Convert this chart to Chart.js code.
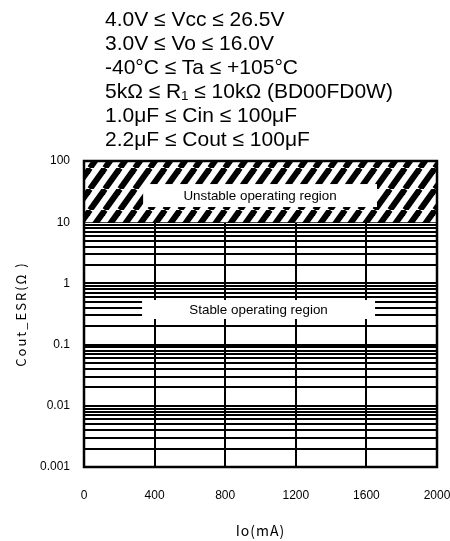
<!DOCTYPE html>
<html>
<head>
<meta charset="utf-8">
<script src="https://cdn.jsdelivr.net/npm/chart.js@4/dist/chart.umd.min.js"></script>
<style>
  html, body { margin: 0; padding: 0; background: #fff; }
  #wrap { position: relative; width: 450px; height: 541px; }
  #cond { position: absolute; left: 105px; top: 7px; font: 21px/24px "Liberation Sans", Arial, sans-serif; color: #000; white-space: pre; }
  canvas { position: absolute; left: 0; top: 0; }
</style>
</head>
<body>
<div id="wrap">
  <canvas id="c" width="450" height="541"></canvas>
  <div id="cond"></div>
</div>
<script>
// ---- data ----
const conditionLines = [
  "4.0V ≤ Vcc ≤ 26.5V",
  "3.0V ≤ Vo ≤ 16.0V",
  "-40°C ≤ Ta ≤ +105°C",
  "5kΩ ≤ R₁ ≤ 10kΩ (BD00FD0W)",
  "1.0μF ≤ Cin ≤ 100μF",
  "2.2μF ≤ Cout ≤ 100μF"
];
const ioRange = [0, 2000];                 // Io (mA) extent of the regions
const unstableTopESR = [100, 100];         // upper edge of unstable region (Ω)
const stableLimitESR = [10, 10];           // boundary stable / unstable (Ω)
const xTickValues = [0, 400, 800, 1200, 1600, 2000];
const yDecades = [0.001, 0.01, 0.1, 1, 10, 100];
const regionLabels = [
  { text: "Unstable operating region", x: [335, 1660], y: [17.7, 42] },
  { text: "Stable operating region",   x: [329, 1649], y: [0.262, 0.536] }
];

document.getElementById('cond').textContent = conditionLines.join("\n");

// minor + major tick values of log axis
const yTickValues = [];
for (let i = 0; i < yDecades.length - 1; i++) {
  for (let m = 1; m <= 9; m++) yTickValues.push(Number((m * yDecades[i]).toPrecision(6)));
}
yTickValues.push(yDecades[yDecades.length - 1]);

// hatch pattern tile
function makeHatch() {
  const P = 15, H = 21;              // horizontal period, tile height (slope 1.4)
  const t = document.createElement('canvas');
  t.width = P; t.height = H;
  const g = t.getContext('2d');
  g.fillStyle = '#fff'; g.fillRect(0, 0, P, H);
  g.strokeStyle = '#000'; g.lineWidth = 6; g.lineCap = 'butt';
  for (let k = -3; k <= 3; k++) {
    g.beginPath();
    g.moveTo(k * P, H);
    g.lineTo(k * P + P, 0);
    g.stroke();
  }
  return g.createPattern(t, 'repeat');
}
const hatch = makeHatch();

const font = '"Liberation Sans", Arial, sans-serif';
const titleSpacing = { x: '1px', y: '2px' };

const spacing = {
  id: 'spacing',
  beforeDraw(chart) {
    ['x', 'y'].forEach(id => {
      const s = chart.scales[id];
      if (s && !s.__wrapped) {
        const orig = s.drawTitle;
        s.drawTitle = function () {
          const c = this.ctx;
          const prev = c.letterSpacing;
          c.letterSpacing = titleSpacing[id];
          orig.apply(this, arguments);
          c.letterSpacing = prev || '0px';
        };
        s.__wrapped = true;
      }
    });
  }
};

const overlay = {
  id: 'overlay',
  afterDatasetsDraw(chart) {
    const { ctx, chartArea: a, scales: { x, y } } = chart;
    ctx.save();
    regionLabels.forEach(l => {
      const x0 = x.getPixelForValue(l.x[0]), x1 = x.getPixelForValue(l.x[1]);
      const y0 = y.getPixelForValue(l.y[1]), y1 = y.getPixelForValue(l.y[0]);
      ctx.fillStyle = '#fff';
      ctx.fillRect(x0, y0, x1 - x0, y1 - y0);
      ctx.fillStyle = '#000';
      ctx.font = '13.4px ' + font;
      ctx.textAlign = 'center';
      ctx.textBaseline = 'middle';
      ctx.fillText(l.text, (x0 + x1) / 2, (y0 + y1) / 2 + 1);
    });
    ctx.strokeStyle = '#000';
    ctx.lineWidth = 2.5;
    ctx.strokeRect(a.left, a.top, a.right - a.left, a.bottom - a.top);
    ctx.restore();
  }
};

new Chart(document.getElementById('c'), {
  type: 'line',
  data: {
    datasets: [{
      label: 'Unstable operating region',
      data: ioRange.map((v, i) => ({ x: v, y: unstableTopESR[i] })),
      fill: { value: stableLimitESR[0] },
      backgroundColor: hatch,
      borderColor: '#000',
      borderWidth: 0,
      pointRadius: 0
    }]
  },
  options: {
    responsive: false,
    animation: false,
    layout: { padding: { top: 161, right: 13, bottom: 0, left: 0 } },
    plugins: { legend: { display: false }, tooltip: { enabled: false } },
    scales: {
      x: {
        type: 'linear',
        min: ioRange[0], max: ioRange[1],
        afterBuildTicks: s => { s.ticks = xTickValues.map(v => ({ value: v })); },
        afterFit: s => { s.height = 74; s.paddingLeft = 0; s.paddingRight = 0; },
        grid: { color: '#000', lineWidth: 2, drawTicks: false },
        border: { display: true, color: '#000', width: 2 },
        ticks: { color: '#000', font: { family: font, size: 12 }, padding: 21, maxRotation: 0,
                 callback: v => String(v) },
        title: { display: true, text: 'Io(mA)', color: '#000',
                 font: { family: '"Noto Sans CJK JP", sans-serif', size: 14 },
                 padding: { top: 0, bottom: 2 } }
      },
      y: {
        type: 'logarithmic',
        min: yDecades[0], max: yDecades[yDecades.length - 1],
        afterBuildTicks: s => { s.ticks = yTickValues.map(v => ({ value: v })); },
        afterFit: s => { s.width = 84; s.paddingTop = 0; s.paddingBottom = 0; },
        grid: { color: '#000', lineWidth: 2, drawTicks: false },
        border: { display: true, color: '#000', width: 2 },
        ticks: { color: '#000', font: { family: font, size: 12 }, padding: 14, autoSkip: false,
                 callback: v => (yDecades.includes(v) ? String(v) : '') },
        title: { display: true, text: 'Cout_ESR(Ω )', color: '#000',
                 font: { family: '"Noto Sans CJK JP", sans-serif', size: 13 },
                 padding: { top: 13, bottom: 0 } }
      }
    }
  },
  plugins: [spacing, overlay]
});
</script>
</body>
</html>
